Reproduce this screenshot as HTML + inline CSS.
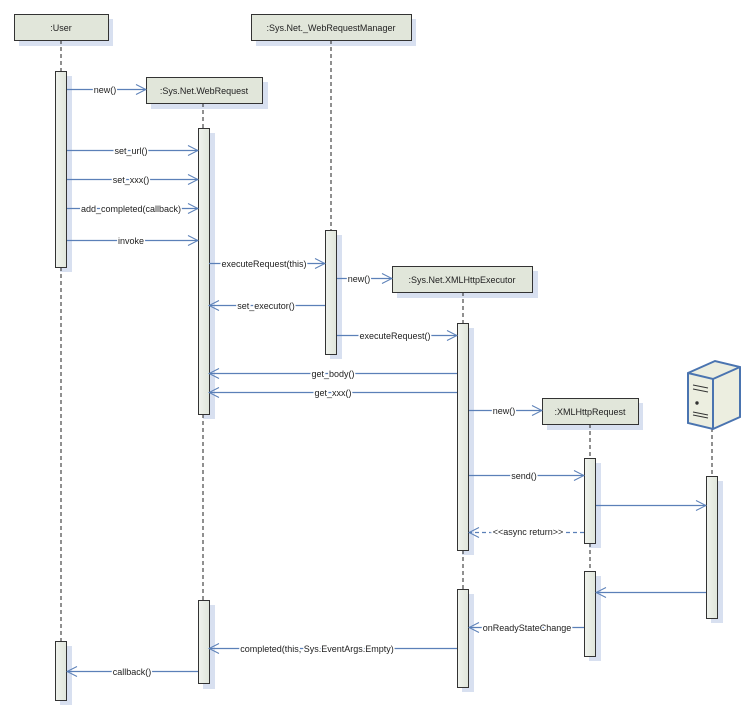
<!DOCTYPE html>
<html><head><meta charset="utf-8"><style>
html,body{margin:0;padding:0;background:#fff;}
svg{display:block;}
text{font-family:"Liberation Sans",sans-serif;font-size:9px;fill:#222;}
</style></head><body>
<svg width="750" height="720" viewBox="0 0 750 720" xmlns="http://www.w3.org/2000/svg">
<defs>
<marker id="a" markerWidth="12" markerHeight="12" refX="11" refY="6" orient="auto" markerUnits="userSpaceOnUse">
<path d="M1,1 L11,6 L1,11" fill="none" stroke="#5b80b8" stroke-width="1"/></marker>
<linearGradient id="g" x1="0" x2="1"><stop offset="0" stop-color="#f0f3ee"/><stop offset="1" stop-color="#dfe5da"/></linearGradient>
</defs>
<g fill="#d8e0f0">
<rect x="19" y="19" width="94" height="27"/>
<rect x="151" y="82" width="117" height="27"/>
<rect x="256" y="19" width="160" height="27"/>
<rect x="397" y="271" width="141" height="27"/>
<rect x="547" y="403" width="96" height="27"/>
<rect x="60" y="76" width="12" height="196"/><rect x="60" y="646" width="12" height="59"/>
<rect x="203" y="133" width="12" height="286"/><rect x="203" y="605" width="12" height="84"/>
<rect x="330" y="235" width="12" height="124"/>
<rect x="462" y="328" width="12" height="227"/><rect x="462" y="594" width="12" height="98"/>
<rect x="589" y="463" width="12" height="85"/><rect x="589" y="576" width="12" height="85"/>
<rect x="711" y="481" width="12" height="142"/>
</g>
<g stroke="#222" stroke-dasharray="4,3" stroke-width="1">
<line x1="61" y1="40" x2="61" y2="71"/><line x1="61" y1="267" x2="61" y2="641"/>
<line x1="203" y1="103" x2="203" y2="128"/><line x1="203" y1="414" x2="203" y2="600"/>
<line x1="331" y1="40" x2="331" y2="230"/>
<line x1="463" y1="292" x2="463" y2="323"/><line x1="463" y1="550" x2="463" y2="589"/>
<line x1="590" y1="424" x2="590" y2="458"/><line x1="590" y1="543" x2="590" y2="571"/>
<line x1="712" y1="428" x2="712" y2="476"/>
</g>
<g fill="#e1e6da" stroke="#333" stroke-width="1">
<rect x="14.5" y="14.5" width="94" height="26"/>
<rect x="146.5" y="77.5" width="116" height="26"/>
<rect x="251.5" y="14.5" width="160" height="26"/>
<rect x="392.5" y="266.5" width="140" height="26"/>
<rect x="542.5" y="398.5" width="96" height="26"/>
</g>
<g fill="url(#g)" stroke="#333" stroke-width="1">
<rect x="55.5" y="71.5" width="11" height="196"/><rect x="55.5" y="641.5" width="11" height="59"/>
<rect x="198.5" y="128.5" width="11" height="286"/><rect x="198.5" y="600.5" width="11" height="83"/>
<rect x="325.5" y="230.5" width="11" height="124"/>
<rect x="457.5" y="323.5" width="11" height="227"/><rect x="457.5" y="589.5" width="11" height="98"/>
<rect x="584.5" y="458.5" width="11" height="85"/><rect x="584.5" y="571.5" width="11" height="85"/>
<rect x="706.5" y="476.5" width="11" height="142"/>
</g>
<g text-anchor="middle">
<text x="61" y="31">:User</text>
<text x="204" y="94">:Sys.Net.WebRequest</text>
<text x="331" y="31">:Sys.Net._WebRequestManager</text>
<text x="462" y="283">:Sys.Net.XMLHttpExecutor</text>
<text x="590" y="415">:XMLHttpRequest</text>
</g>
<!-- server -->
<g stroke="#4a74b0" stroke-width="2" fill="#eceee0">
<path d="M688,373 L715,361 L740,367 L740,417 L713,429 L688,423 Z"/>
<path d="M688,373 L713,379 L740,367 M713,379 L713,429" fill="none"/>
</g>
<g stroke="#333" stroke-width="1"><line x1="693" y1="385" x2="708" y2="388"/><line x1="693" y1="389" x2="708" y2="392"/><line x1="693" y1="412" x2="708" y2="415"/><line x1="693" y1="415" x2="708" y2="418"/><circle cx="697" cy="403" r="1.2" fill="#333"/></g>
<g stroke="#5b80b8" stroke-width="1.2" fill="none" marker-end="url(#a)">
<line x1="67" y1="89.5" x2="146" y2="89.5"/>
<line x1="67" y1="150.5" x2="198" y2="150.5"/>
<line x1="67" y1="179.5" x2="198" y2="179.5"/>
<line x1="67" y1="208.5" x2="198" y2="208.5"/>
<line x1="67" y1="240.5" x2="198" y2="240.5"/>
<line x1="209" y1="263.5" x2="325" y2="263.5"/>
<line x1="337" y1="278.5" x2="392" y2="278.5"/>
<line x1="325" y1="305.5" x2="209" y2="305.5"/>
<line x1="337" y1="335.5" x2="457" y2="335.5"/>
<line x1="457" y1="373.5" x2="209" y2="373.5"/>
<line x1="457" y1="392.5" x2="209" y2="392.5"/>
<line x1="469" y1="410.5" x2="542" y2="410.5"/>
<line x1="469" y1="475.5" x2="584" y2="475.5"/>
<line x1="596" y1="505.5" x2="706" y2="505.5"/>
<line x1="584" y1="532.5" x2="469" y2="532.5" stroke-dasharray="4,3"/>
<line x1="706" y1="592.5" x2="596" y2="592.5"/>
<line x1="584" y1="627.5" x2="469" y2="627.5"/>
<line x1="457" y1="648.5" x2="209" y2="648.5"/>
<line x1="198" y1="671.5" x2="67" y2="671.5"/>
</g>
<g text-anchor="middle" style="paint-order:stroke" stroke="#fff" stroke-width="3">
<text x="105" y="93">new()</text>
<text x="131" y="154">set_url()</text>
<text x="131" y="183">set_xxx()</text>
<text x="131" y="212">add_completed(callback)</text>
<text x="131" y="244">invoke</text>
<text x="264" y="267">executeRequest(this)</text>
<text x="359" y="282">new()</text>
<text x="266" y="309">set_executor()</text>
<text x="395" y="339">executeRequest()</text>
<text x="333" y="377">get_body()</text>
<text x="333" y="396">get_xxx()</text>
<text x="504" y="414">new()</text>
<text x="524" y="479">send()</text>
<text x="528" y="535">&lt;&lt;async return&gt;&gt;</text>
<text x="527" y="631">onReadyStateChange</text>
<text x="317" y="652">completed(this, Sys.EventArgs.Empty)</text>
<text x="132" y="675">callback()</text>
</g>
</svg>
</body></html>
